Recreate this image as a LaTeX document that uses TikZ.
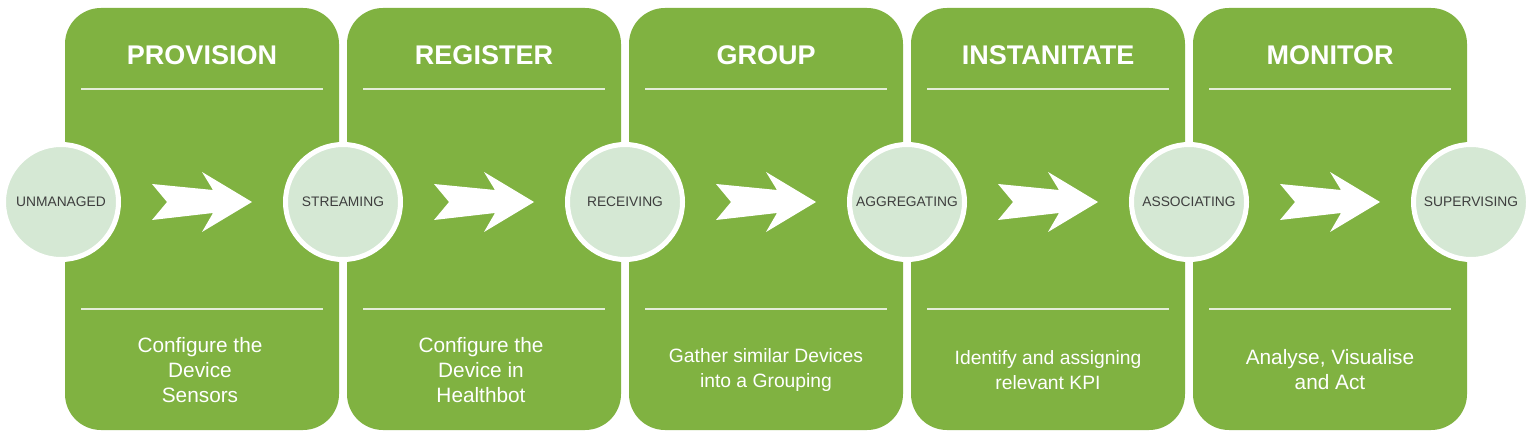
\documentclass[tikz,border=0pt]{standalone}
\usepackage{fontspec}
\setmainfont{Liberation Sans}
\definecolor{boxgreen}{HTML}{80B241}
\definecolor{circfill}{HTML}{D5E8D4}
\definecolor{circtext}{HTML}{3E3E3E}
\definecolor{rulecol}{HTML}{E4EDD8}
\tikzset{
  stagebox/.style={fill=boxgreen, rounded corners=36pt, minimum width=274pt, minimum height=422pt, inner sep=0pt},
  statecirc/.style={circle, fill=circfill, draw=white, line width=5pt, minimum size=115pt, inner sep=0pt,
     text=circtext, font=\fontsize{13.8pt}{15pt}\selectfont},
  titletext/.style={text=white, font=\fontsize{27pt}{30pt}\selectfont\bfseries},
  bodytext/.style={text=white, align=center, font=\fontsize{20.8pt}{25pt}\selectfont},
  bodytextsm/.style={text=white, align=center, font=\fontsize{19.3pt}{25pt}\selectfont},
  sepline/.style={draw=rulecol, line width=2pt},
  chevron/.style={fill=white},
}
\begin{document}
\begin{tikzpicture}[x=1pt, y=-1pt]
\useasboundingbox (0,0) rectangle (1532,438);
\fill[white] (0,0) rectangle (1532,438);
% boxes
\foreach \i/\cx in {1/202, 2/484, 3/766, 4/1048, 5/1330} {
  \node[stagebox] (box\i) at (\cx,219) {};
  \coordinate (tl\i) at (\cx-121,89);
  \coordinate (tr\i) at (\cx+121,89);
  \coordinate (bl\i) at (\cx-121,309);
  \coordinate (br\i) at (\cx+121,309);
  \draw[sepline] (tl\i) -- (tr\i);
  \draw[sepline] (bl\i) -- (br\i);
  \coordinate (ar\i) at (\cx-50,202);
  \fill[chevron] (ar\i) ++(0,-18) -- ++(61,6) -- ++(-11,-18) -- ++(50,30) -- ++(-50,30) -- ++(11,-19) -- ++(-61,7) -- ++(15,-18) -- cycle;
}
% titles
\node[titletext] (t1) at (202,55) {PROVISION};
\node[titletext] (t2) at (484,55) {REGISTER};
\node[titletext] (t3) at (766,55) {GROUP};
\node[titletext] (t4) at (1048,55) {INSTANITATE};
\node[titletext] (t5) at (1330,55) {MONITOR};
% body texts
\node[bodytext] (d1) at (200,370) {Configure the\\Device\\Sensors};
\node[bodytext] (d2) at (481,370) {Configure the\\Device in\\Healthbot};
\node[bodytextsm] (d3) at (766,370) {Gather similar Devices\\into a Grouping};
\node[bodytextsm] (d4) at (1048,370) {Identify and assigning\\relevant KPI};
\node[bodytext] (d5) at (1330,370) {Analyse, Visualise\\and Act};
% state circles
\node[statecirc] (s0) at (61,202) {UNMANAGED};
\node[statecirc] (s1) at (343,202) {STREAMING};
\node[statecirc] (s2) at (625,202) {RECEIVING};
\node[statecirc] (s3) at (907,202) {AGGREGATING};
\node[statecirc] (s4) at (1189,202) {ASSOCIATING};
\node[statecirc] (s5) at (1471,202) {SUPERVISING};
\end{tikzpicture}
\end{document}
